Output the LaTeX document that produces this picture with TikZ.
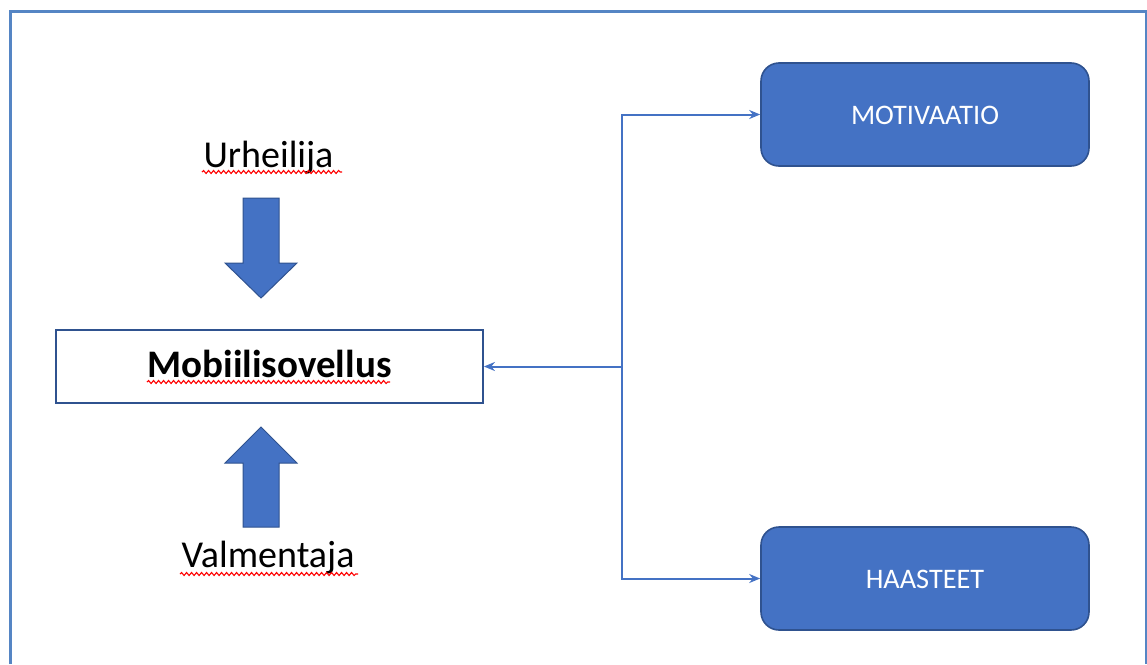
\documentclass[tikz,border=0pt]{standalone}
\usepackage{fontspec}
\setmainfont{Carlito}
\usetikzlibrary{arrows.meta,decorations.pathmorphing}
\definecolor{accent}{HTML}{4472C4}
\definecolor{accentdark}{HTML}{2F528F}
\definecolor{framecol}{HTML}{5585C4}
\tikzset{
  roundbox/.style={draw=accentdark, line width=1.6pt, fill=accent, rounded corners=18pt,
    minimum width=328pt, minimum height=103pt, inner sep=0pt, text=white,
    font=\fontsize{28.3}{30}\selectfont, text height=22pt, text depth=3pt},
  appbox/.style={draw=accentdark, line width=1.8pt, fill=white,
    minimum width=427pt, minimum height=73pt, inner sep=0pt,
    font=\fontsize{39}{42}\selectfont\bfseries, text height=26pt, text depth=5pt},
  label/.style={font=\fontsize{38}{40}\selectfont, anchor=base, inner sep=0pt},
  conn/.style={draw=accent, line width=2pt, -{Stealth[length=11pt,width=9pt]}},
  blockarrow/.style={fill=accent, draw=accentdark, line width=1pt, line join=miter},
  squiggle/.style={draw=red, line width=1.1pt, decorate,
    decoration={snake, amplitude=1.5pt, segment length=5pt}}
}
\begin{document}
\begin{tikzpicture}[x=1pt, y=-1pt]
\useasboundingbox (0,0) rectangle (1147,664);
% outer frame
\draw[framecol, line width=3pt] (10,664) -- (10,11) -- (1146,11) -- (1146,664);

% boxes
\node[appbox] (mob) at (269.5,366.5) {Mobiilisovellus};
\node[roundbox] (mot) at (925,114.5) {MOTIVAATIO};
\node[roundbox] (haa) at (925,578.5) {HAASTEET};

% labels
\node[label] (urh) at (268.5,167) {Urheilija};
\node[label] (val) at (268,567) {Valmentaja};

% spell-check squiggles
\draw[squiggle] (202,172) -- (342,172);
\draw[squiggle] (180,574) -- (358,574);
\draw[squiggle] (147,382) -- (390,382);

% block arrows
\draw[blockarrow] (243,198) -- (279,198) -- (279,263) -- (297,263) -- (261,298) -- (225,263) -- (243,263) -- cycle;
\draw[blockarrow] (261,427) -- (297,463) -- (279,463) -- (279,527) -- (243,527) -- (243,463) -- (225,463) -- cycle;

% connectors
\coordinate (j) at (622,366.5);
\draw[conn] (j) |- (mot.west);
\draw[conn] (j) |- (haa.west);
\draw[conn] (j) -- (mob.east);
\end{tikzpicture}
\end{document}
